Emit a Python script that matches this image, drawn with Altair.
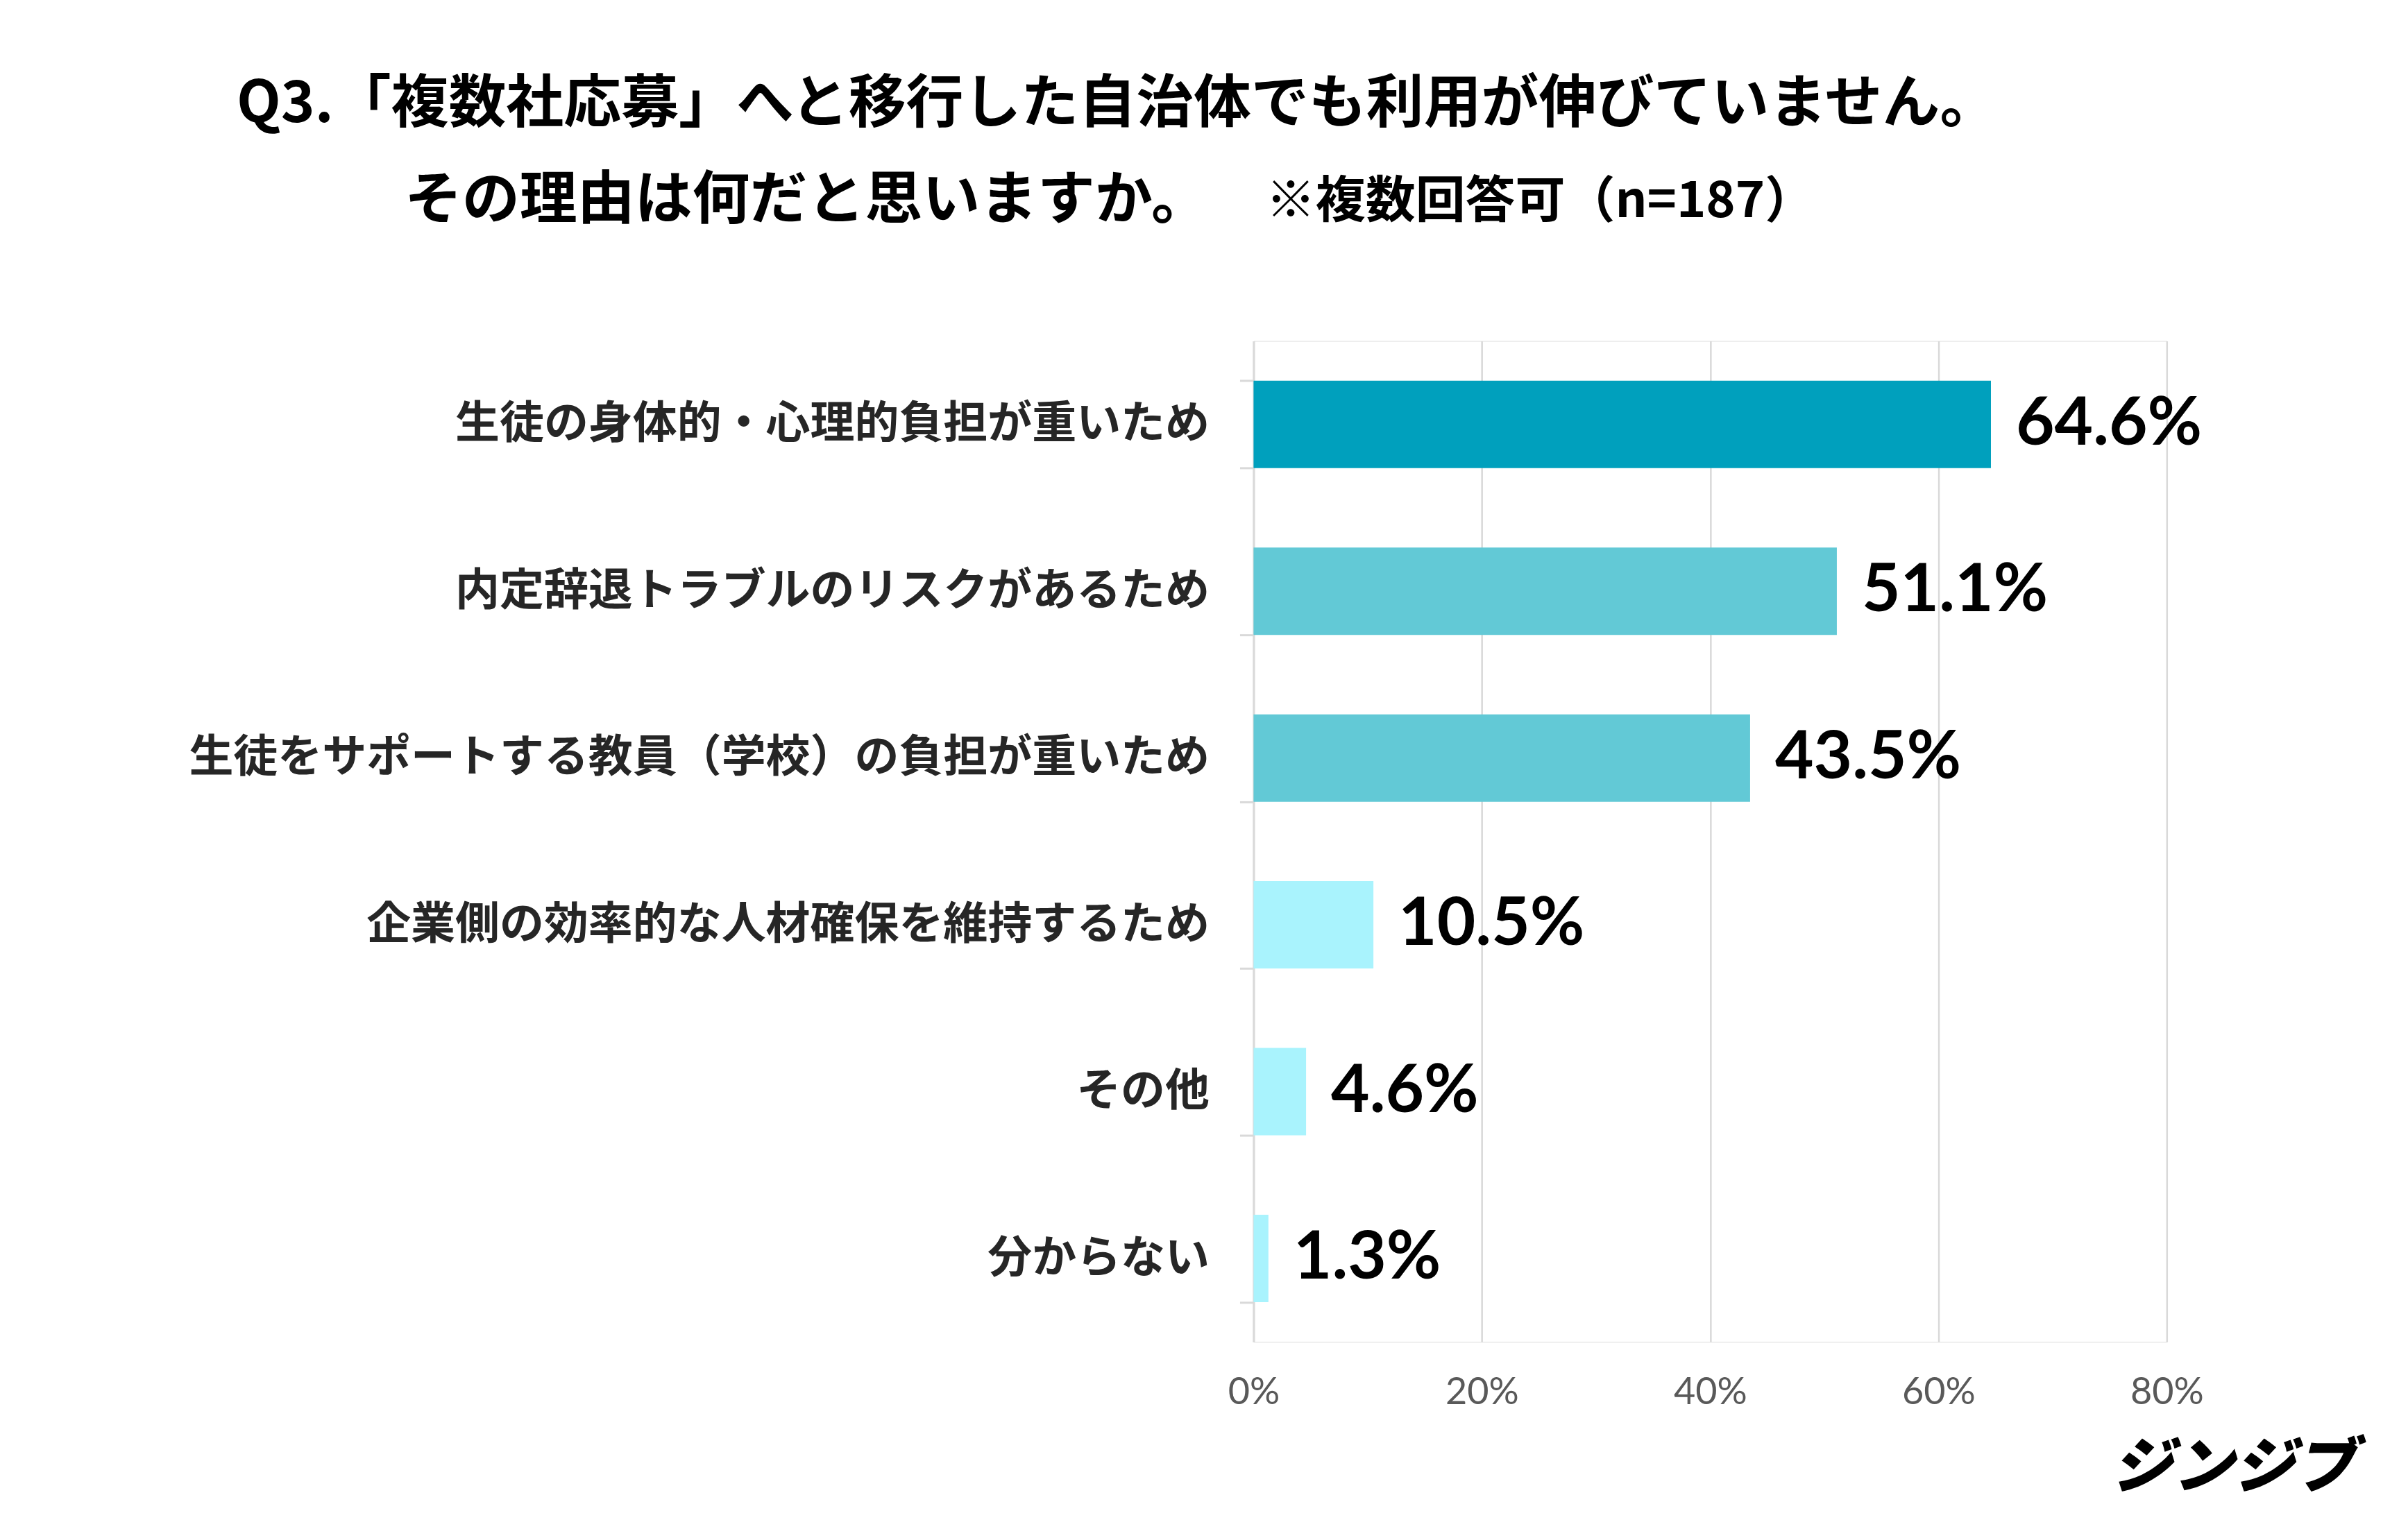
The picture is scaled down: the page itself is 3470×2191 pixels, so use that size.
import altair as alt
import pandas as pd

categories = [
    "生徒の身体的・心理的負担が重いため",
    "内定辞退トラブルのリスクがあるため",
    "生徒をサポートする教員（学校）の負担が重いため",
    "企業側の効率的な人材確保を維持するため",
    "その他",
    "分からない",
]
values = [64.6, 51.1, 43.5, 10.5, 4.6, 1.3]
x_ticks = [0, 20, 40, 60, 80]
bar_colors = ["#00A0BD", "#62C9D6", "#62C9D6", "#A9F3FD", "#A9F3FD", "#A9F3FD"]

title_line1 = "Q3.「複数社応募」へと移行した自治体でも利用が伸びていません。"
title_line2 = "その理由は何だと思いますか。"
note_text = "※複数回答可（n=187）"
logo_text = "ジンジブ"

df = pd.DataFrame({"category": categories, "value": values})

W, H = 1317, 1444
JP = "Noto Sans CJK JP"

y_enc = alt.Y(
    "category:N",
    sort=categories,
    scale=alt.Scale(paddingInner=0.476, paddingOuter=0.238),
    axis=alt.Axis(
        title=note_text,
        titleFont=JP,
        titleFontSize=72,
        titleFontWeight="bold",
        titleColor="#000000",
        titleAngle=0,
        titleAlign="left",
        titleBaseline="middle",
        titleX=17,
        titleY=-201,
        labelFont=JP,
        labelFontSize=64,
        labelFontWeight="bold",
        labelColor="#262626",
        labelPadding=44,
        labelLimit=2000,
        domainColor="#d9d9d9",
        domainWidth=3,
        tickColor="#d9d9d9",
        tickWidth=3,
        tickSize=20,
        tickBand="extent",
        grid=False,
    ),
)

x_scale = alt.Scale(domain=[0, 80], nice=False)

x_enc = alt.X(
    "value:Q",
    scale=x_scale,
    axis=alt.Axis(
        values=x_ticks,
        labelExpr="datum.value + '%'",
        labelFont="Lato",
        labelFontSize=54,
        labelColor="#595959",
        labelPadding=46,
        labelFlush=False,
        ticks=False,
        domain=False,
        grid=True,
        gridColor="#d9d9d9",
        gridWidth=2.5,
        title=logo_text,
        titleFont=JP,
        titleFontSize=88,
        titleFontWeight=900,
        titleFontStyle="italic",
        titleColor="#000000",
        titleX=1589,
        titleY=183,
        titleAlign="right",
        titleBaseline="middle",
        titleAngle=0,
    ),
)

x_top = alt.X(
    "value:Q",
    scale=x_scale,
    axis=alt.Axis(
        orient="top",
        labels=False,
        ticks=False,
        domain=False,
        grid=False,
        title=title_line2,
        titleFont=JP,
        titleFontSize=83,
        titleFontWeight="bold",
        titleColor="#000000",
        titleAngle=0,
        titleAlign="left",
        titleBaseline="middle",
        titleX=-1225,
        titleY=-202,
    ),
)

bars = alt.Chart(df).mark_bar().encode(
    x=x_enc,
    y=y_enc,
    color=alt.Color(
        "category:N",
        scale=alt.Scale(domain=categories, range=bar_colors),
        legend=None,
    ),
)

labels = alt.Chart(df).transform_calculate(
    label="format(datum.value, '.1f') + '%'"
).mark_text(
    align="left",
    baseline="middle",
    dx=36,
    font="Lato",
    fontSize=96,
    fontWeight="bold",
    color="#000000",
).encode(
    x=x_top,
    y=alt.Y("category:N", sort=categories),
    text="label:N",
)

chart = (
    alt.layer(bars, labels)
    .resolve_axis(x="independent")
    .properties(
        width=W,
        height=H,
        autosize=alt.AutoSizeParams(type="none"),
        padding={"left": 1800, "top": 483, "right": 340, "bottom": 240},
        title=alt.TitleParams(
            text=title_line1,
            font=JP,
            fontSize=83,
            fontWeight="bold",
            color="#000000",
            anchor="start",
            frame="group",
            align="center",
            dx=-197,
            offset=56,
        ),
    )
    .configure_view(stroke=None)
    .configure(background="white")
)

chart.save("out.html", embed_options={"renderer": "svg", "actions": False})
